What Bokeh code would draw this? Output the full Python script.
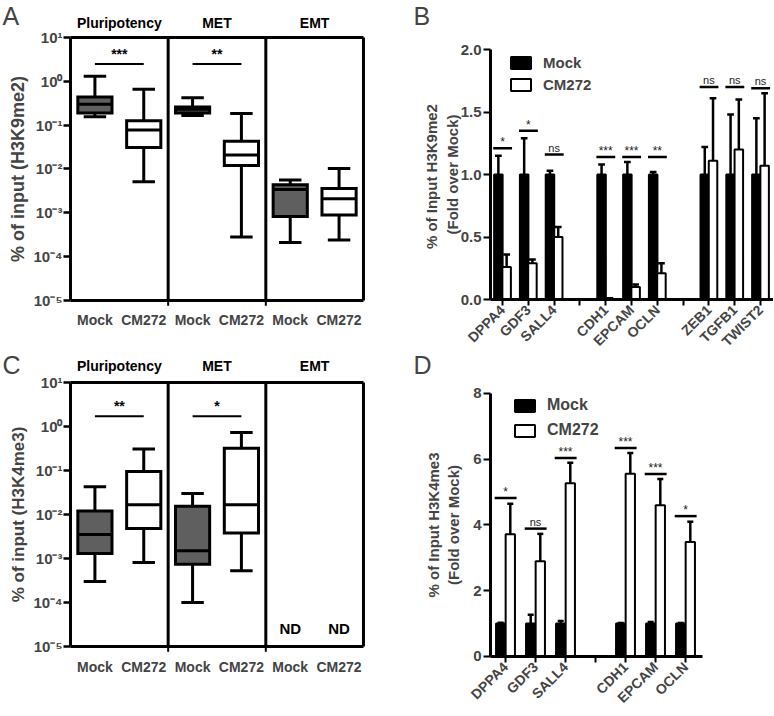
import math
from bokeh.plotting import figure
from bokeh.models import Range1d, FixedTicker, Label, CustomJSTickFormatter, NumeralTickFormatter
from bokeh.layouts import column, row
from bokeh.embed import file_html
from bokeh.resources import INLINE
from bokeh.core.properties import value

FONT = "Liberation Sans"
GRAY = "#5f5f5f"

# ---------------- Panels A / C (box plots) ----------------
box_labels = ["Mock", "CM272", "Mock", "CM272", "Mock", "CM272"]
groups = ["Pluripotency", "MET", "EMT"]
decade_ticks = [1e-5, 1e-4, 1e-3, 1e-2, 1e-1, 1e0, 1e1]
decade_labels = ["10\u207b\u2075", "10\u207b\u2074", "10\u207b\u00b3", "10\u207b\u00b2", "10\u207b\u00b9", "10\u2070", "10\u00b9"]

a_whisker_low = [0.155, 0.0051, 0.167, 0.00028, 0.00021, 0.00024]
a_q1 = [0.19, 0.031, 0.19, 0.012, 0.00082, 0.00089]
a_median = [0.30, 0.078, 0.23, 0.021, 0.0034, 0.0021]
a_q3 = [0.44, 0.126, 0.26, 0.043, 0.0044, 0.0036]
a_whisker_high = [1.3, 0.66, 0.42, 0.185, 0.0056, 0.0102]
a_sig_text = ["***", "**"]
a_sig_y = [2.5, 2.5]

c_whisker_low = [0.0003, 0.00081, 0.0001, 0.00053]
c_q1 = [0.0013, 0.0048, 0.00074, 0.0038]
c_median = [0.0035, 0.0166, 0.0015, 0.0166]
c_q3 = [0.012, 0.095, 0.0155, 0.32]
c_whisker_high = [0.043, 0.31, 0.030, 0.73]
c_sig_text = ["**", "*"]
c_sig_y = [1.7, 1.7]
c_nd_text = ["ND", "ND"]
c_nd_y = 2.6e-5

# ---------------- Panel B ----------------
b_slots = ["DPPA4", "GDF3", "SALL4", "", "CDH1", "EPCAM", "OCLN", "", "ZEB1", "TGFB1", "TWIST2"]
b_genes = ["DPPA4", "GDF3", "SALL4", "CDH1", "EPCAM", "OCLN", "ZEB1", "TGFB1", "TWIST2"]
b_mock = [1.0, 1.0, 1.0, 1.0, 1.0, 1.0, 1.0, 1.0, 1.0]
b_mock_err = [1.15, 1.29, 1.03, 1.08, 1.10, 1.02, 1.22, 1.48, 1.45]
b_cm = [0.26, 0.29, 0.50, 0.005, 0.10, 0.21, 1.11, 1.20, 1.07]
b_cm_err = [0.36, 0.32, 0.58, 0.01, 0.12, 0.29, 1.61, 1.60, 1.65]
b_sig = ["*", "*", "ns", "***", "***", "**", "ns", "ns", "ns"]
b_sig_y = [1.21, 1.35, 1.16, 1.14, 1.14, 1.14, 1.70, 1.70, 1.69]
b_yticks = [0, 0.5, 1.0, 1.5, 2.0]

# ---------------- Panel D ----------------
d_slots = ["DPPA4", "GDF3", "SALL4", "", "CDH1", "EPCAM", "OCLN"]
d_genes = ["DPPA4", "GDF3", "SALL4", "CDH1", "EPCAM", "OCLN"]
d_mock = [1.0, 1.0, 1.0, 1.0, 1.0, 1.0]
d_mock_err = [1.03, 1.27, 1.08, 1.02, 1.05, 1.02]
d_cm = [3.72, 2.90, 5.27, 5.56, 4.60, 3.48]
d_cm_err = [4.65, 3.73, 5.89, 6.19, 5.40, 4.10]
d_sig = ["*", "ns", "***", "***", "***", "*"]
d_sig_y = [4.82, 3.89, 6.04, 6.34, 5.55, 4.27]
d_yticks = [0, 2, 4, 6, 8]


def log_formatter():
    return CustomJSTickFormatter(args=dict(labs=decade_labels, tvals=decade_ticks), code="""
let best = 0; let d = Infinity;
for (let i = 0; i < tvals.length; i++) {
  const dd = Math.abs(Math.log10(tick) - Math.log10(tvals[i]));
  if (dd < d) { d = dd; best = i; }
}
return labs[best];
""")


def base_fig(width, height, xr, yr, log=False):
    kw = dict(width=width, height=height, x_range=Range1d(*xr), y_range=Range1d(*yr),
              output_backend="svg", toolbar_location=None, title=None,
              min_border_left=0, min_border_right=0, min_border_top=0, min_border_bottom=0)
    if log:
        kw["y_axis_type"] = "log"
    p = figure(**kw)
    p.xgrid.visible = False
    p.ygrid.visible = False
    p.outline_line_color = None
    p.background_fill_color = "white"
    p.border_fill_color = "white"
    return p


def box_panel(height, yr, lo, q1, med, q3, hi, ylabel, ylabel_size,
              sig_text, sig_y, group_y, letter, letter_x, letter_y, nd_text=None, nd_y=None):
    p = base_fig(390, height, (-1.9335, 6.0534), yr, log=True)

    n = len(q1)
    pos = list(range(n))
    fills = [GRAY if box_labels[i] == "Mock" else "white" for i in pos]
    # whiskers
    p.segment(x0=pos, y0=q3, x1=pos, y1=hi, line_color="black", line_width=3)
    p.segment(x0=pos, y0=lo, x1=pos, y1=q1, line_color="black", line_width=3)
    p.segment(x0=[x - 0.23 for x in pos], y0=hi, x1=[x + 0.23 for x in pos], y1=hi,
              line_color="black", line_width=3)
    p.segment(x0=[x - 0.23 for x in pos], y0=lo, x1=[x + 0.23 for x in pos], y1=lo,
              line_color="black", line_width=3)
    # boxes
    p.quad(left=[x - 0.35 for x in pos], right=[x + 0.35 for x in pos], bottom=q1, top=q3,
           fill_color=fills, line_color="black", line_width=3, line_join="miter")
    p.segment(x0=[x - 0.35 for x in pos], y0=med, x1=[x + 0.35 for x in pos], y1=med,
              line_color="black", line_width=3)

    # frame around the panel (top, right, dividers)
    ngroups = len(groups)
    p.segment(x0=[-0.5], y0=[10], x1=[2 * ngroups - 0.5], y1=[10], line_color="black", line_width=3)
    divs = [2 * g - 0.5 for g in range(1, ngroups + 1)]
    p.segment(x0=divs, y0=[1e-5] * len(divs), x1=divs, y1=[10] * len(divs),
              line_color="black", line_width=3)
    # small ticks below the dividers
    p.segment(x0=divs[:-1], y0=[1e-5] * (len(divs) - 1), x1=divs[:-1], y1=[7.6e-6] * (len(divs) - 1),
              line_color="black", line_width=2)

    # significance bars
    sx0 = [2 * g for g in range(len(sig_text))]
    sx1 = [2 * g + 1 for g in range(len(sig_text))]
    p.segment(x0=sx0, y0=sig_y, x1=sx1, y1=sig_y, line_color="black", line_width=2)
    p.text(x=[2 * g + 0.5 for g in range(len(sig_text))], y=sig_y, text=sig_text,
           text_font=value(FONT), text_font_size=value("14px"), text_font_style="bold",
           text_align="center", text_baseline="bottom", text_color="black", y_offset=-2)

    if nd_text is not None:
        p.text(x=[4, 5], y=[nd_y, nd_y], text=nd_text,
               text_font=value(FONT), text_font_size=value("15px"), text_font_style="bold",
               text_align="center", text_baseline="middle", text_color="black")

    # group labels above the frame
    p.text(x=[2 * g + 0.5 for g in range(ngroups)], y=[group_y] * ngroups, text=groups,
           text_font=value(FONT), text_font_size=value("14px"), text_font_style="bold",
           text_align="center", text_baseline="middle", text_color="black")
    p.add_layout(Label(x=letter_x, y=letter_y, text=letter, text_font=FONT,
                       text_font_size="25px", text_align="left", text_baseline="top"))

    # axes
    p.yaxis.fixed_location = -0.5
    p.yaxis.ticker = FixedTicker(ticks=decade_ticks)
    p.yaxis.formatter = log_formatter()
    p.yaxis.bounds = (1e-5, 10)
    p.yaxis.axis_line_width = 3
    p.yaxis.major_tick_line_width = 2.5
    p.yaxis.major_tick_out = 7
    p.yaxis.major_tick_in = 0
    p.yaxis.minor_tick_line_color = None
    p.yaxis.major_label_standoff = 1
    p.yaxis.major_label_text_font = FONT
    p.yaxis.major_label_text_font_size = "15px"
    p.yaxis.major_label_text_font_style = "bold"
    p.yaxis.axis_label = ylabel
    p.yaxis.axis_label_text_font = FONT
    p.yaxis.axis_label_text_font_size = ylabel_size
    p.yaxis.axis_label_text_font_style = "bold"
    p.yaxis.axis_label_standoff = 2

    p.xaxis.fixed_location = 1e-5
    p.xaxis.ticker = FixedTicker(ticks=list(range(len(box_labels))))
    p.xaxis.major_label_overrides = {i: lab for i, lab in enumerate(box_labels)}
    p.xaxis.bounds = (-0.5, 5.5)
    p.xaxis.axis_line_width = 3
    p.xaxis.major_tick_line_color = None
    p.xaxis.minor_tick_line_color = None
    p.xaxis.major_label_standoff = 6
    p.xaxis.major_label_text_font = FONT
    p.xaxis.major_label_text_font_size = "14px"
    p.xaxis.major_label_text_font_style = "bold"
    return p


def bar_panel(height, xr, yr, axis_bounds, slots, genes, mock, mock_err,
              cm, cm_err, sig, sig_y, ylabel, label_standoff, yticks, yfmt, legend_size, legend_loc,
              legend_spacing, letter, letter_x, letter_y, sig_font, ns_font, capw, barw):
    p = base_fig(383, height, xr, yr)

    pos = [slots.index(g) for g in genes]
    xm = [x - 0.16 for x in pos]
    xc = [x + 0.16 for x in pos]

    # error bars (upper)
    p.segment(x0=xm, y0=mock, x1=xm, y1=mock_err, line_color="black", line_width=2.5)
    p.segment(x0=[x - capw for x in xm], y0=mock_err, x1=[x + capw for x in xm], y1=mock_err,
              line_color="black", line_width=2.5)
    p.segment(x0=xc, y0=cm, x1=xc, y1=cm_err, line_color="black", line_width=2.5)
    p.segment(x0=[x - capw for x in xc], y0=cm_err, x1=[x + capw for x in xc], y1=cm_err,
              line_color="black", line_width=2.5)

    p.vbar(x=xm, top=mock, width=barw, bottom=0, fill_color="black", line_color="black",
           line_width=2, legend_label="Mock")
    p.vbar(x=xc, top=cm, width=barw, bottom=0, fill_color="white", line_color="black",
           line_width=2, legend_label="CM272")

    # significance
    p.segment(x0=[x - 0.36 for x in pos], y0=sig_y, x1=[x + 0.37 for x in pos], y1=sig_y,
              line_color="black", line_width=2.5)
    stars = [s if s != "ns" else "" for s in sig]
    nss = [s if s == "ns" else "" for s in sig]
    p.text(x=pos, y=sig_y, text=stars, text_font=value(FONT), text_font_size=value(sig_font),
           text_align="center", text_baseline="bottom", text_color="#222222", y_offset=1)
    p.text(x=pos, y=sig_y, text=nss, text_font=value(FONT), text_font_size=value(ns_font),
           text_align="center", text_baseline="bottom", text_color="#222222", y_offset=-1)

    p.add_layout(Label(x=letter_x, y=letter_y, text=letter, text_font=FONT,
                       text_font_size="25px", text_align="left", text_baseline="top"))

    leg = p.legend[0]
    leg.location = legend_loc
    leg.margin = 0
    leg.padding = 0
    leg.spacing = legend_spacing
    leg.border_line_color = None
    leg.background_fill_alpha = 0
    leg.glyph_width = 25
    leg.glyph_height = 15
    leg.label_height = 15
    leg.label_standoff = 10
    leg.label_text_font = FONT
    leg.label_text_font_size = legend_size
    leg.label_text_font_style = "bold"

    p.yaxis.fixed_location = axis_bounds[0]
    p.yaxis.ticker = FixedTicker(ticks=yticks)
    p.yaxis.formatter = NumeralTickFormatter(format=yfmt)
    p.yaxis.bounds = (0, yticks[-1])
    p.yaxis.axis_line_width = 3
    p.yaxis.major_tick_line_width = 2
    p.yaxis.major_tick_out = 7
    p.yaxis.major_tick_in = 0
    p.yaxis.minor_tick_line_color = None
    p.yaxis.major_label_standoff = 2
    p.yaxis.major_label_text_font = FONT
    p.yaxis.major_label_text_font_size = "15px"
    p.yaxis.major_label_text_font_style = "bold"
    p.yaxis.axis_label = ylabel
    p.yaxis.axis_label_text_font = FONT
    p.yaxis.axis_label_text_font_size = "15px"
    p.yaxis.axis_label_text_font_style = "bold"
    p.yaxis.axis_label_standoff = label_standoff

    p.xaxis.fixed_location = 0
    p.xaxis.ticker = FixedTicker(ticks=list(range(len(slots))))
    p.xaxis.major_label_overrides = {i: s for i, s in enumerate(slots)}
    p.xaxis.bounds = axis_bounds
    p.xaxis.axis_line_width = 3
    p.xaxis.major_tick_line_width = 2
    p.xaxis.major_tick_out = 6
    p.xaxis.major_tick_in = 0
    p.xaxis.minor_tick_line_color = None
    p.xaxis.major_label_orientation = math.pi / 4
    p.xaxis.major_label_standoff = 2
    p.xaxis.major_label_text_font = FONT
    p.xaxis.major_label_text_font_size = "14px"
    p.xaxis.major_label_text_font_style = "bold"
    return p


pA = box_panel(350, (10 ** -6.1408, 10 ** 1.8442), a_whisker_low, a_q1, a_median, a_q3, a_whisker_high,
               "% of input (H3K9me2)", "18px", a_sig_text, a_sig_y, 10 ** 1.342, "A", -1.8926, 10 ** 1.821)
pC = box_panel(365, (10 ** -6.568, 10 ** 1.7273), c_whisker_low, c_q1, c_median, c_q3, c_whisker_high,
               "% of input (H3K4me3)", "17px", c_sig_text, c_sig_y, 10 ** 1.386, "C", -1.8926, 10 ** 1.72,
               nd_text=c_nd_text, nd_y=c_nd_y)

pB = bar_panel(350, (-4.341, 10.504), (-0.408, 2.392), (-0.465, 10.5), b_slots, b_genes, b_mock, b_mock_err,
               b_cm, b_cm_err, b_sig, b_sig_y, "% of Input  H3K9me2\n(Fold over Mock)", -3, b_yticks, "0.0",
               "15px", (118, 257), 5, "B", -3.45, 2.384, "12px", "11px", 0.13, 0.33)
pD = bar_panel(365, (-3.833, 8.933), (-1.795, 9.308), (-0.5, 6.567), d_slots, d_genes, d_mock, d_mock_err,
               d_cm, d_cm_err, d_sig, d_sig_y, "% of Input H3K4me3\n(Fold over Mock)", 8, d_yticks, "0",
               "16px", (122, 276), 7, "D", -3.07, 9.28, "12px", "11px", 0.1, 0.31)

layout = column(row(pA, pB), row(pC, pD))
open("out.html", "w").write(file_html(layout, INLINE))
